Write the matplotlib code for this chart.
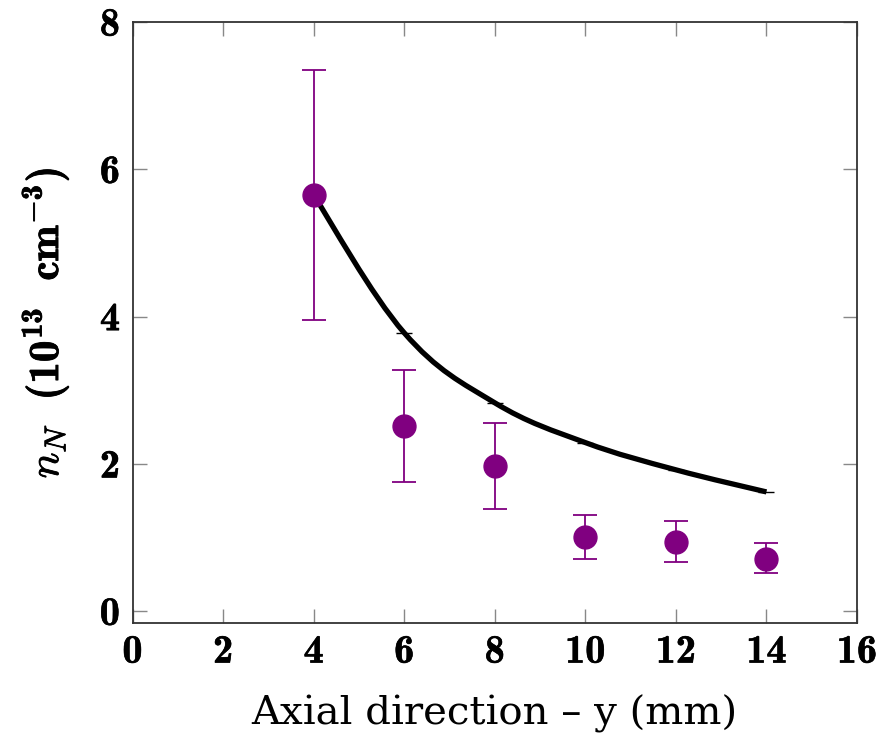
import numpy as np
import matplotlib
matplotlib.use("Agg")
import matplotlib.pyplot as plt
import matplotlib.patheffects as pe
from matplotlib.path import Path
from matplotlib.patches import PathPatch

plt.rcParams['mathtext.fontset'] = 'custom'
plt.rcParams['mathtext.rm'] = 'cmb10'
plt.rcParams['mathtext.bf'] = 'cmb10'
plt.rcParams['mathtext.it'] = 'cmmi10'

# Measured density along the axial direction
y_pos = [4, 6, 8, 10, 12, 14]
n_meas = [5.65, 2.52, 1.97, 1.01, 0.94, 0.71]
err_hi = [7.35, 3.28, 2.56, 1.31, 1.22, 0.92]
err_lo = [3.96, 1.76, 1.39, 0.71, 0.67, 0.52]

# Model curve
n_model = [5.65, 3.78, 2.83, 2.29, 1.92, 1.62]

x_ticks = [0, 2, 4, 6, 8, 10, 12, 14, 16]
y_ticks = [0, 2, 4, 6, 8]

purple = '#800080'
tick_fx = [pe.withStroke(linewidth=0.45, foreground='black')]
label_fx = [pe.withStroke(linewidth=0.6, foreground='black')]

fig = plt.figure(figsize=(8.93, 7.34), dpi=100)
ax = fig.add_axes([0.1484, 0.1512, 0.8113, 0.8188])


def smooth_path(xs, ys, tension=0.55):
    """Cubic Bezier path through the points (cardinal-spline style)."""
    pts = np.column_stack([xs, ys]).astype(float)
    verts = [pts[0]]
    codes = [Path.MOVETO]
    n = len(pts)
    for i in range(n - 1):
        p0 = pts[i - 1] if i > 0 else pts[i]
        p1 = pts[i]
        p2 = pts[i + 1]
        p3 = pts[i + 2] if i + 2 < n else pts[i + 1]
        c1 = p1 + (p2 - p0) * tension / 3.0
        c2 = p2 - (p3 - p1) * tension / 3.0
        verts += [c1, c2, p2]
        codes += [Path.CURVE4] * 3
    return Path(verts, codes)


ax.add_patch(PathPatch(smooth_path(y_pos, n_model), facecolor='none',
                       edgecolor='black', lw=3.8, zorder=3, capstyle='butt'))
ax.plot(y_pos, n_model, ls='none', marker='_', ms=11, mew=1.0,
        color='black', zorder=3)

lower = np.array(n_meas) - np.array(err_lo)
upper = np.array(err_hi) - np.array(n_meas)
ax.errorbar(y_pos, n_meas, yerr=[lower, upper], fmt='o', color=purple,
            ms=16.5, elinewidth=1.3, capsize=8.3, capthick=1.3, zorder=4)

ax.set_xlim(0, 16)
ax.set_ylim(-0.16, 8)
ax.set_xticks(x_ticks)
ax.set_yticks(y_ticks)
ax.set_xticklabels([str(v) for v in x_ticks], family='cmb10', fontsize=29)
ax.set_yticklabels([str(v) for v in y_ticks], family='cmb10', fontsize=29)
for lab in ax.get_xticklabels() + ax.get_yticklabels():
    lab.set_path_effects(tick_fx)
ax.tick_params(direction='in', length=10, width=1.0, color='#888888',
               top=True, right=True, pad=9)

for s in ax.spines.values():
    s.set_color('#333333')
    s.set_linewidth(1.3)

ax.set_xlabel('Axial direction – y (mm)', family='DejaVu Serif',
              fontsize=29, labelpad=17)
fig.text(0.051, 0.56,
         r'$n_N\ \ (10^{13}\ \ \mathrm{cm}^{-3})$',
         rotation=90, fontsize=31, ha='center', va='center',
         path_effects=label_fx)

fig.savefig('out.png', dpi=100)
